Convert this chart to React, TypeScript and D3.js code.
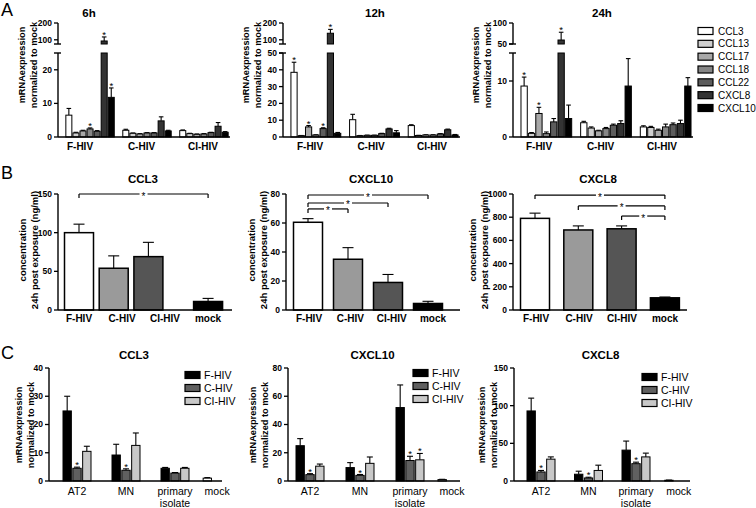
import React from 'react';
import * as d3 from 'd3';

const FONT = '"Liberation Sans", Arial, Helvetica, sans-serif';

// ---------------- Panel A data ----------------
const chemokines = ['CCL3', 'CCL13', 'CCL17', 'CCL18', 'CCL22', 'CXCL8', 'CXCL10'];
const chemokineColors = ['#ffffff', '#cfcfcf', '#a8a8a8', '#868686', '#5c5c5c', '#333333', '#000000'];
const virusGroups = ['F-HIV', 'C-HIV', 'CI-HIV'];

const mean6h = [
  [6.5, 1.2, 1.8, 2.4, 1.7, 93, 11.8],
  [2.0, 1.1, 0.9, 1.2, 1.2, 4.8, 1.8],
  [1.9, 1.0, 0.8, 0.9, 1.3, 3.2, 1.4],
];
const err6h = [
  [8.5, 1.4, 2.0, 2.7, 1.9, 117, 14.6],
  [2.3, 1.2, 1.0, 1.3, 1.3, 6.0, 2.0],
  [2.1, 1.1, 0.9, 1.0, 1.4, 4.3, 1.6],
];
const mean12h = [
  [38.5, 0.8, 6.0, 1.2, 5.0, 139, 2.2],
  [10.3, 0.8, 1.0, 1.0, 2.0, 4.8, 2.5],
  [6.8, 0.9, 1.2, 1.2, 1.8, 4.3, 1.2],
];
const err12h = [
  [44.5, 0.9, 6.8, 1.3, 5.5, 162, 2.7],
  [13.5, 0.9, 1.1, 1.1, 2.2, 5.2, 3.8],
  [7.3, 1.0, 1.3, 1.3, 2.0, 4.7, 1.5],
];
const mean24h = [
  [9.1, 0.65, 4.2, 0.6, 2.7, 59.5, 3.3],
  [2.55, 1.6, 1.1, 1.5, 2.1, 2.4, 9.1],
  [1.8, 1.7, 1.2, 1.8, 2.2, 2.4, 9.1],
];
const err24h = [
  [10.7, 0.8, 5.3, 0.9, 3.3, 78, 5.7],
  [2.8, 1.8, 1.2, 1.7, 2.3, 2.9, 14],
  [2.0, 1.9, 1.4, 2.3, 2.5, 3.0, 10.6],
];
const stars6h = ['CCL18', 'CXCL8', 'CXCL10'];
const stars12h = ['CCL3', 'CCL17', 'CCL22', 'CXCL8'];
const stars24h = ['CCL3', 'CCL17', 'CXCL8'];

const lowerDomain6h = [0, 25];
const lowerTicks6h = [0, 10, 20];
const upperDomain6h = [75, 200];
const upperTicks6h = [100, 200];
const lowerDomain12h = [0, 50];
const lowerTicks12h = [0, 10, 20, 30, 40, 50];
const upperDomain12h = [75, 200];
const upperTicks12h = [100, 200];
const lowerDomain24h = [0, 15];
const lowerTicks24h = [0, 10];
const upperDomain24h = [50, 100];
const upperTicks24h = [50, 100];

// ---------------- Panel B data ----------------
const bCategories = ['F-HIV', 'C-HIV', 'CI-HIV', 'mock'];
const bColors = ['#ffffff', '#9a9a9a', '#555555', '#000000'];
const ccl3Conc = [100, 54, 69, 11];
const ccl3ConcErr = [111, 70, 87.5, 15];
const cxcl10Conc = [60.5, 35, 19, 4.5];
const cxcl10ConcErr = [63, 43, 24.5, 6];
const cxcl8Conc = [790, 690, 700, 105];
const cxcl8ConcErr = [835, 725, 725, 112];
const ccl3Ticks = [0, 50, 100, 150];
const cxcl10Ticks = [0, 20, 40, 60, 80];
const cxcl8Ticks = [0, 200, 400, 600, 800, 1000];
const ccl3Brackets = [{ from: 'F-HIV', to: 'mock', level: 150 }];
const cxcl10Brackets = [
  { from: 'F-HIV', to: 'mock', level: 79.3 },
  { from: 'F-HIV', to: 'CI-HIV', level: 73.8 },
  { from: 'F-HIV', to: 'C-HIV', level: 69.7 },
];
const cxcl8Brackets = [
  { from: 'F-HIV', to: 'mock', level: 991 },
  { from: 'C-HIV', to: 'mock', level: 897 },
  { from: 'CI-HIV', to: 'mock', level: 810 },
];

// ---------------- Panel C data ----------------
const cSites = ['AT2', 'MN', 'primary isolate', 'mock'];
const cViruses = ['F-HIV', 'C-HIV', 'CI-HIV'];
const cColors = ['#000000', '#606060', '#c8c8c8'];
// rows: virus, cols: AT2, MN, primary isolate
const ccl3Mrna = [
  [24.8, 9.2, 4.5],
  [4.5, 3.8, 2.8],
  [10.5, 12.6, 4.5],
];
const ccl3MrnaErr = [
  [30, 13, 4.8],
  [4.9, 4.3, 3.0],
  [12.3, 17, 4.8],
];
const cxcl10Mrna = [
  [25, 9.5, 52],
  [4.5, 4, 14.5],
  [10.5, 12.5, 15],
];
const cxcl10MrnaErr = [
  [30, 13, 68],
  [5.2, 4.6, 17.5],
  [12, 17, 19.5],
];
const cxcl8Mrna = [
  [93, 9, 41],
  [12, 4, 23],
  [29, 14, 32],
];
const cxcl8MrnaErr = [
  [110, 13, 53],
  [14, 5, 25],
  [32, 21, 37],
];
const mockMrna = 1.0;
const ccl3Stars = [['C-HIV', 'AT2'], ['C-HIV', 'MN']];
const cxcl10Stars = [['C-HIV', 'AT2'], ['C-HIV', 'MN'], ['C-HIV', 'primary isolate'], ['CI-HIV', 'primary isolate']];
const cxcl8Stars = [['C-HIV', 'AT2'], ['C-HIV', 'MN'], ['C-HIV', 'primary isolate']];
const ccl3MrnaTicks = [0, 10, 20, 30, 40];
const cxcl10MrnaTicks = [0, 20, 40, 60, 80];
const cxcl8MrnaTicks = [0, 50, 100, 150];

// ---------------- helpers ----------------
function YTitle({ x1, x2, y, l1, l2, size }: any) {
  return (
    <g fontFamily={FONT} fontWeight="bold" fontSize={size} fill="#000">
      <text transform={`translate(${x1},${y}) rotate(-90)`} textAnchor="middle" dy="0.35em">{l1}</text>
      <text transform={`translate(${x2},${y}) rotate(-90)`} textAnchor="middle" dy="0.35em">{l2}</text>
    </g>
  );
}

function Ticks({ scale, ticks, x }: any) {
  return (
    <g>
      {ticks.map((t: number) => (
        <g key={t}>
          <line x1={x - 4} x2={x} y1={scale(t)} y2={scale(t)} stroke="#000" strokeWidth={1.3} />
          <text x={x - 6} y={scale(t)} dy="0.35em" textAnchor="end" fontFamily={FONT} fontWeight="bold" fontSize={8.5}>{t}</text>
        </g>
      ))}
    </g>
  );
}

function ErrBar({ cx, y0, y1, half }: any) {
  return (
    <g stroke="#000" strokeWidth={1.1}>
      <line x1={cx} x2={cx} y1={y0} y2={y1} />
      <line x1={cx - half} x2={cx + half} y1={y1} y2={y1} />
    </g>
  );
}

function Star({ x, y, size = 9.5 }: any) {
  return <text x={x} y={y} textAnchor="middle" fontFamily={FONT} fontSize={size}>*</text>;
}

// ---------------- Panel A ----------------
function PanelA({ title, means, errs, stars, lowerDomain, lowerTicks, upperDomain, upperTicks, axisX, xEnd, titleX, ytX1, ytX2, labelRange }: any) {
  const base = 137, lowerTop = 53, upperBottom = 44, upperTop = 23;
  const yL = d3.scaleLinear().domain(lowerDomain).range([base, lowerTop]);
  const yU = d3.scaleLinear().domain(upperDomain).range([upperBottom, upperTop]);
  const lowMax = lowerDomain[1];
  const yv = (v: number) => (v <= lowMax ? yL(v) : yU(v));
  const xg = d3.scaleBand().domain(virusGroups).range([axisX + 5, xEnd + 1]).paddingInner(0.15).paddingOuter(0.05);
  const xc = d3.scaleBand().domain(chemokines).range([0, xg.bandwidth()]).paddingInner(0.15);
  const xl = d3.scalePoint().domain(virusGroups).range(labelRange);
  const bw = xc.bandwidth();
  return (
    <g>
      <text x={titleX} y={17} textAnchor="middle" fontFamily={FONT} fontWeight="bold" fontSize={11.5}>{title}</text>
      <YTitle x1={ytX1} x2={ytX2} y={65} l1="mRNAexpression" l2="normalized to mock" size={9.2} />
      {virusGroups.map((g, gi) => (
        <g key={g}>
          {chemokines.map((c, ci) => {
            const v = means[gi][ci];
            const e = errs[gi][ci];
            const x = (xg(g) as number) + (xc(c) as number);
            const cx = x + bw / 2;
            const fill = chemokineColors[ci];
            const rects = v <= lowMax
              ? [<rect key="l" x={x} y={yL(v)} width={bw} height={base - yL(v)} fill={fill} stroke="#000" strokeWidth={1} />]
              : [
                  <rect key="l" x={x} y={lowerTop} width={bw} height={base - lowerTop} fill={fill} stroke="#000" strokeWidth={1} />,
                  <rect key="u" x={x} y={yU(v)} width={bw} height={upperBottom - yU(v)} fill={fill} stroke="#000" strokeWidth={1} />,
                ];
            const hasStar = gi === 0 && stars.includes(c);
            return (
              <g key={c}>
                <ErrBar cx={cx} y0={yv(v)} y1={yv(e)} half={2.3} />
                {rects}
                {hasStar && <Star x={cx} y={yv(e) + 1} />}
              </g>
            );
          })}
          <text x={xl(g)} y={150} textAnchor="middle" fontFamily={FONT} fontWeight="bold" fontSize={10}>{g}</text>
        </g>
      ))}
      {/* axes */}
      <g stroke="#000" strokeWidth={1.4}>
        <line x1={axisX} x2={axisX} y1={base} y2={lowerTop} />
        <line x1={axisX} x2={axisX} y1={upperBottom} y2={upperTop} />
        <line x1={axisX - 4} x2={axisX + 3} y1={lowerTop} y2={lowerTop} />
        <line x1={axisX - 4} x2={axisX + 3} y1={upperBottom} y2={upperBottom} />
        <line x1={axisX} x2={xEnd} y1={base} y2={base} />
      </g>
      <Ticks scale={yL} ticks={lowerTicks} x={axisX} />
      <Ticks scale={yU} ticks={upperTicks} x={axisX} />
    </g>
  );
}

function LegendA() {
  const y = d3.scalePoint().domain(chemokines).range([31, 108]);
  return (
    <g>
      {chemokines.map((c, i) => (
        <g key={c}>
          <rect x={698} y={(y(c) as number) - 3.5} width={15} height={7} fill={chemokineColors[i]} stroke="#000" strokeWidth={1.2} />
          <text x={718} y={y(c)} dy="0.35em" fontFamily={FONT} fontSize={10}>{c}</text>
        </g>
      ))}
    </g>
  );
}

// ---------------- Panel B ----------------
function PanelB({ title, values, errs, domainMax, ticks, brackets, axisX, xEnd, barFirst, barStep, barSlots, labelRange, ytX1, ytX2 }: any) {
  const base = 310, top = 194;
  const y = d3.scaleLinear().domain([0, domainMax]).range([base, top]);
  const slot = d3.scaleLinear().domain([0, 1]).range([barFirst, barFirst + barStep]);
  const barX = (c: string) => slot(barSlots[bCategories.indexOf(c)]);
  const xl = d3.scalePoint().domain(bCategories).range(labelRange);
  const bw = 29;
  const titleX = (axisX + xEnd) / 2 - 2;
  return (
    <g>
      <text x={titleX} y={183} textAnchor="middle" fontFamily={FONT} fontWeight="bold" fontSize={11.5}>{title}</text>
      <YTitle x1={ytX1} x2={ytX2} y={250} l1="concentration" l2="24h post exposure (ng/ml)" size={9.5} />
      {bCategories.map((c, i) => {
        const cx = barX(c);
        return (
          <g key={c}>
            <ErrBar cx={cx} y0={y(values[i])} y1={y(errs[i])} half={5.5} />
            <rect x={cx - bw / 2} y={y(values[i])} width={bw} height={base - y(values[i])} fill={bColors[i]} stroke="#000" strokeWidth={1.5} />
            <text x={xl(c)} y={322} textAnchor="middle" fontFamily={FONT} fontWeight="bold" fontSize={10}>{c}</text>
          </g>
        );
      })}
      {brackets.map((b: any, i: number) => {
        const x1 = barX(b.from), x2 = barX(b.to), yy = y(b.level);
        const mid = (x1 + x2) / 2;
        return (
          <g key={i} stroke="#000" strokeWidth={1.2}>
            <line x1={x1} x2={x1} y1={yy} y2={yy + 4} />
            <line x1={x2} x2={x2} y1={yy} y2={yy + 4} />
            <line x1={x1} x2={mid - 4} y1={yy} y2={yy} />
            <line x1={mid + 4} x2={x2} y1={yy} y2={yy} />
            <text x={mid} y={yy + 5.5} textAnchor="middle" fontFamily={FONT} fontSize={10} stroke="none" fill="#000">*</text>
          </g>
        );
      })}
      <g stroke="#000" strokeWidth={1.4}>
        <line x1={axisX} x2={axisX} y1={base} y2={top} />
        <line x1={axisX} x2={xEnd} y1={base} y2={base} />
      </g>
      <Ticks scale={y} ticks={ticks} x={axisX} />
    </g>
  );
}

// ---------------- Panel C ----------------
function PanelC({ title, values, errs, stars, domainMax, ticks, axisX, xEnd, siteFirst, siteStep, siteSlots, ytX1, ytX2, legX, legY }: any) {
  const base = 481, top = 368;
  const y = d3.scaleLinear().domain([0, domainMax]).range([base, top]);
  const slot = d3.scaleLinear().domain([0, 1]).range([siteFirst, siteFirst + siteStep]);
  const siteX = (s: string) => slot(siteSlots[cSites.indexOf(s)]);
  const sub = d3.scaleBand().domain(cViruses).range([-14, 14]).paddingInner(0.15);
  const bw = sub.bandwidth();
  const ly = d3.scalePoint().domain(cViruses).range([legY, legY + 26]);
  const titleX = (axisX + xEnd) / 2 - 1.5;
  const realSites = cSites.slice(0, 3);
  const mockX = siteX('mock') + (sub('F-HIV') as number);
  return (
    <g>
      <text x={titleX} y={359} textAnchor="middle" fontFamily={FONT} fontWeight="bold" fontSize={11.5}>{title}</text>
      <YTitle x1={ytX1} x2={ytX2} y={425} l1="mRNAexpression" l2="normalized to mock" size={9.2} />
      {cViruses.map((v, vi) => (
        <g key={v}>
          {realSites.map((s, si) => {
            const x = siteX(s) + (sub(v) as number);
            const cx = x + bw / 2;
            const val = values[vi][si];
            const e = errs[vi][si];
            const star = stars.some((p: string[]) => p[0] === v && p[1] === s);
            return (
              <g key={s}>
                <ErrBar cx={cx} y0={y(val)} y1={y(e)} half={3} />
                <rect x={x} y={y(val)} width={bw} height={base - y(val)} fill={cColors[vi]} stroke="#000" strokeWidth={1} />
                {star && <Star x={cx} y={y(e) + 1} />}
              </g>
            );
          })}
        </g>
      ))}
      <ErrBar cx={mockX + bw / 2} y0={y(mockMrna)} y1={y(mockMrna * 1.2)} half={3} />
      <rect x={mockX} y={y(mockMrna)} width={bw} height={base - y(mockMrna)} fill="#ffffff" stroke="#000" strokeWidth={1} />
      {cSites.map((s) => {
        const parts = s.split(' ');
        return (
          <text key={s} x={siteX(s)} y={495} textAnchor="middle" fontFamily={FONT} fontSize={10.5}>
            {parts.map((p, i) => (
              <tspan key={p} x={siteX(s)} dy={i === 0 ? 0 : 12}>{p}</tspan>
            ))}
          </text>
        );
      })}
      <g stroke="#000" strokeWidth={1.4}>
        <line x1={axisX} x2={axisX} y1={base} y2={top} />
        <line x1={axisX} x2={xEnd} y1={base} y2={base} />
      </g>
      <Ticks scale={y} ticks={ticks} x={axisX} />
      {cViruses.map((v, i) => (
        <g key={v}>
          <rect x={legX} y={(ly(v) as number) - 3.5} width={15} height={7} fill={cColors[i]} stroke="#000" strokeWidth={1.2} />
          <text x={legX + 19} y={ly(v)} dy="0.35em" fontFamily={FONT} fontSize={10.5}>{v}</text>
        </g>
      ))}
    </g>
  );
}

export default function App() {
  return (
    <svg width={756} height={508} viewBox="0 0 756 508" style={{ position: 'absolute', left: 0, top: 0, background: '#fff' }}>
      <rect x={0} y={0} width={756} height={508} fill="#fff" />
      <g fontFamily={FONT} fontSize={18}>
        <text x={1} y={16}>A</text>
        <text x={1} y={179}>B</text>
        <text x={1} y={359}>C</text>
      </g>
      <PanelA title="6h" means={mean6h} errs={err6h} stars={stars6h}
        lowerDomain={lowerDomain6h} lowerTicks={lowerTicks6h} upperDomain={upperDomain6h} upperTicks={upperTicks6h}
        axisX={58} xEnd={230} titleX={89} ytX1={22} ytX2={34} labelRange={[80, 203]} />
      <PanelA title="12h" means={mean12h} errs={err12h} stars={stars12h}
        lowerDomain={lowerDomain12h} lowerTicks={lowerTicks12h} upperDomain={upperDomain12h} upperTicks={upperTicks12h}
        axisX={283} xEnd={460} titleX={375} ytX1={246} ytX2={258} labelRange={[310, 432]} />
      <PanelA title="24h" means={mean24h} errs={err24h} stars={stars24h}
        lowerDomain={lowerDomain24h} lowerTicks={lowerTicks24h} upperDomain={upperDomain24h} upperTicks={upperTicks24h}
        axisX={513} xEnd={693} titleX={602} ytX1={476} ytX2={488} labelRange={[539, 662]} />
      <LegendA />

      <PanelB title="CCL3" values={ccl3Conc} errs={ccl3ConcErr} domainMax={150} ticks={ccl3Ticks} brackets={ccl3Brackets}
        axisX={58} xEnd={232} barFirst={79} barStep={34.7} barSlots={[0, 1, 2, 3.72]} labelRange={[79, 208]} ytX1={23} ytX2={35} />
      <PanelB title="CXCL10" values={cxcl10Conc} errs={cxcl10ConcErr} domainMax={80} ticks={cxcl10Ticks} brackets={cxcl10Brackets}
        axisX={286} xEnd={460} barFirst={308} barStep={40} barSlots={[0, 1, 2, 3]} labelRange={[309, 433]} ytX1={252} ytX2={264} />
      <PanelB title="CXCL8" values={cxcl8Conc} errs={cxcl8ConcErr} domainMax={1000} ticks={cxcl8Ticks} brackets={cxcl8Brackets}
        axisX={513} xEnd={687} barFirst={535} barStep={43.3} barSlots={[0, 1, 2, 3]} labelRange={[536, 665]} ytX1={473} ytX2={485} />

      <PanelC title="CCL3" values={ccl3Mrna} errs={ccl3MrnaErr} stars={ccl3Stars} domainMax={40} ticks={ccl3MrnaTicks}
        axisX={49} xEnd={222} siteFirst={77} siteStep={49} siteSlots={[0, 1, 2, 2.86]} ytX1={19} ytX2={31} legX={185} legY={375} />
      <PanelC title="CXCL10" values={cxcl10Mrna} errs={cxcl10MrnaErr} stars={cxcl10Stars} domainMax={80} ticks={cxcl10MrnaTicks}
        axisX={288} xEnd={460} siteFirst={310} siteStep={50} siteSlots={[0, 1, 2, 2.84]} ytX1={253} ytX2={265} legX={413} legY={373} />
      <PanelC title="CXCL8" values={cxcl8Mrna} errs={cxcl8MrnaErr} stars={cxcl8Stars} domainMax={150} ticks={cxcl8MrnaTicks}
        axisX={514} xEnd={690} siteFirst={541} siteStep={47.5} siteSlots={[0, 1, 2, 2.9]} ytX1={482} ytX2={494} legX={642} legY={377} />
    </svg>
  );
}
